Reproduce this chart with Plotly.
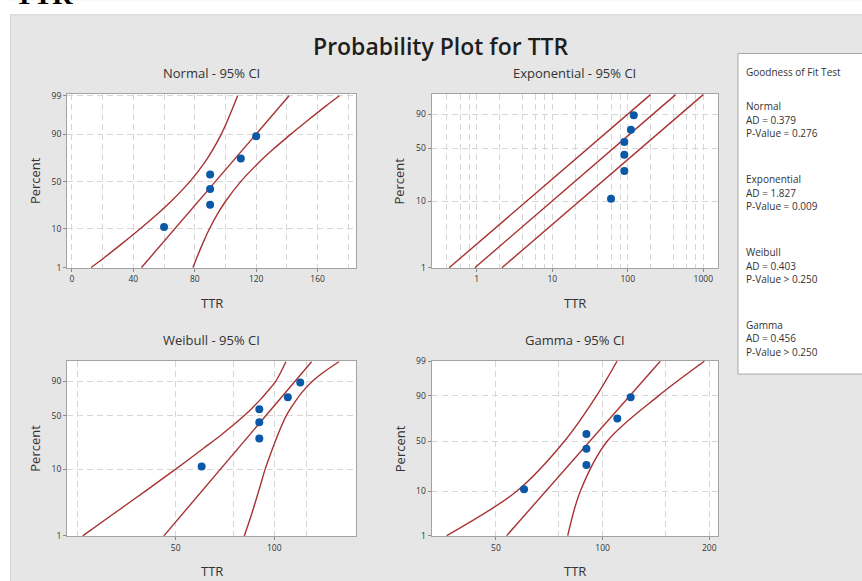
import math
from statistics import NormalDist
import plotly.graph_objects as go

# ---------------- data ----------------
ttr = [60, 90, 90, 90, 110, 120]
pct = [10.9, 26.6, 42.2, 57.8, 73.4, 89.1]

fit_pct = [1, 99]

normal_fit = [45.3, 141.4]
normal_ci_pct = [1, 2, 5, 10, 20, 30, 50, 70, 80, 90, 95, 98, 99]
normal_lo = [12.5, 21.2, 33.6, 44.3, 56.6, 64.8, 76.8, 86.5, 91.4, 97.2, 101.2, 105.3, 107.9]
normal_hi = [78.8, 81.4, 85.5, 89.5, 95.3, 100.2, 109.9, 121.9, 130.1, 142.4, 153.1, 165.5, 174.2]

expo_fit = [0.94, 430]
expo_lo = [0.43, 200]
expo_hi = [2.15, 1000]

weib_fit = [46.0, 130.0]
weib_ci_pct = [1, 2, 5, 10, 20, 30, 50, 70, 80, 90, 95, 99]
weib_lo = [26.0, 31.6, 41.0, 50.0, 61.1, 69.1, 81.0, 90.5, 95.2, 101.0, 104.0, 108.5]
weib_hi = [81.0, 84.9, 89.9, 93.8, 99.0, 102.6, 108.8, 116.8, 122.0, 130.5, 139.0, 157.5]

gamma_fit = [53.6, 145.4]
gamma_ci_pct = [1, 10, 50, 90, 99]
gamma_lo = [36.3, 57.2, 78.0, 96.2, 109.8]
gamma_hi = [79.7, 86.5, 103.0, 144.0, 193.6]

gof_names = ["Normal", "Exponential", "Weibull", "Gamma"]
gof_ad = ["0.379", "1.827", "0.403", "0.456"]
gof_p = ["= 0.276", "= 0.009", "> 0.250", "> 0.250"]

y_ticks_4 = [1, 10, 50, 90]
y_ticks_5 = [1, 10, 50, 90, 99]

GAMMA_SHAPE = 22.3

# ---------------- probability-scale transforms ----------------
_nd = NormalDist()


def t_norm(p):
    return _nd.inv_cdf(p / 100.0)


def t_sev(p):
    return math.log(-math.log(1 - p / 100.0))


def gamma_cdf(x, a):
    if x <= 0:
        return 0.0
    term = 1.0 / a
    s = term
    n = 1
    while n < 2000:
        term *= x / (a + n)
        s += term
        if term < s * 1e-14:
            break
        n += 1
    return s * math.exp(-x + a * math.log(x) - math.lgamma(a))


def gamma_ppf(p, a):
    lo, hi = 1e-9, a * 20
    for _ in range(200):
        mid = 0.5 * (lo + hi)
        if gamma_cdf(mid, a) < p:
            lo = mid
        else:
            hi = mid
    return 0.5 * (lo + hi)


def t_gam(p):
    return math.log(gamma_ppf(p / 100.0, GAMMA_SHAPE))


# ---------------- geometry helpers ----------------
W, H = 862, 581
# the photographed page shows the figure slightly shifted / squeezed vertically;
# positions below are given in reference-picture pixels and mapped back here
V_OFF, V_SC = 4.4, 0.9825


def fx(px):
    return px / W


def fy(py):
    return 1 - ((py - V_OFF) / V_SC) / H


RED = "#a83232"
BLUE = "#0a58a8"
GRID = "#d6d6d6"
DASH = "6px,4px"
AXLINE = "#a3a3a3"
TXT = "#333333"
FONT = "Open Sans"

fig = go.Figure()


def add_panel(idx, tf, fit, ci_sets):
    xa = "x" if idx == 1 else f"x{idx}"
    ya = "y" if idx == 1 else f"y{idx}"
    for ppct, xs in ci_sets:
        fig.add_trace(go.Scatter(x=xs, y=[tf(p) for p in ppct], mode="lines",
                                 line=dict(color=RED, width=1.4, shape="spline", smoothing=0.9),
                                 xaxis=xa, yaxis=ya, hoverinfo="skip"))
    fig.add_trace(go.Scatter(x=fit, y=[tf(p) for p in fit_pct], mode="lines",
                             line=dict(color=RED, width=1.4), xaxis=xa, yaxis=ya, hoverinfo="skip"))
    fig.add_trace(go.Scatter(x=ttr, y=[tf(p) for p in pct], mode="markers",
                             marker=dict(color=BLUE, size=8), xaxis=xa, yaxis=ya))


add_panel(1, t_norm, normal_fit, [(normal_ci_pct, normal_lo), (normal_ci_pct, normal_hi)])
add_panel(2, t_sev, expo_fit, [(fit_pct, expo_lo), (fit_pct, expo_hi)])
add_panel(3, t_sev, weib_fit, [(weib_ci_pct, weib_lo), (weib_ci_pct, weib_hi)])
add_panel(4, t_gam, gamma_fit, [(gamma_ci_pct, gamma_lo), (gamma_ci_pct, gamma_hi)])

# plot-area pixel boxes (reference pixels)
LX = (67, 356)
RX = (431.5, 718)
TY = (92.5, 267)
BY = (360, 535.5)

common = dict(showline=True, mirror=True, linecolor=AXLINE, linewidth=1,
              showgrid=True, gridcolor=GRID, griddash=DASH, gridwidth=1,
              zeroline=False, ticks="outside", ticklen=3, tickcolor="#8a8a8a",
              tickfont=dict(size=8.5, color=TXT, family=FONT))

minor_common = dict(showgrid=True, gridcolor=GRID, griddash=DASH, gridwidth=1, ticks="")

layout_axes = {}
# Normal
layout_axes["xaxis"] = dict(common, domain=[fx(LX[0]), fx(LX[1])], anchor="y",
                            range=[-3.2, 185], tickmode="array", tickvals=[0, 40, 80, 120, 160],
                            minor=dict(minor_common, tickmode="array",
                                       tickvals=[20, 60, 100, 140, 180]))
layout_axes["yaxis"] = dict(common, domain=[fy(TY[1]), fy(TY[0])], anchor="x",
                            range=[-2.345, 2.375], tickmode="array",
                            tickvals=[t_norm(v) for v in y_ticks_5],
                            ticktext=[str(v) for v in y_ticks_5])
# Exponential
exp_minor = []
for d in [0.1, 1, 10, 100, 1000]:
    for m in [2, 4, 6, 8]:
        exp_minor.append(d * m)
layout_axes["xaxis2"] = dict(common, domain=[fx(RX[0]), fx(RX[1])], anchor="y2", type="log",
                             range=[-0.600, 3.195], tickmode="array", tickvals=[1, 10, 100, 1000],
                             ticktext=["1", "10", "100", "1000"],
                             minor=dict(minor_common, tickmode="array", tickvals=exp_minor))
layout_axes["yaxis2"] = dict(common, domain=[fy(TY[1]), fy(TY[0])], anchor="x2",
                             range=[-4.615, 1.55], tickmode="array",
                             tickvals=[t_sev(v) for v in y_ticks_4],
                             ticktext=[str(v) for v in y_ticks_4])
# Weibull
layout_axes["xaxis3"] = dict(common, domain=[fx(LX[0]), fx(LX[1])], anchor="y3", type="log",
                             range=[1.367, 2.2495], tickmode="array", tickvals=[50, 100],
                             ticktext=["50", "100"],
                             minor=dict(minor_common, tickmode="array", tickvals=[25, 75, 125]))
layout_axes["yaxis3"] = dict(common, domain=[fy(BY[1]), fy(BY[0])], anchor="x3",
                             range=[-4.615, 1.55], tickmode="array",
                             tickvals=[t_sev(v) for v in y_ticks_4],
                             ticktext=[str(v) for v in y_ticks_4])
# Gamma
layout_axes["xaxis4"] = dict(common, domain=[fx(RX[0]), fx(RX[1])], anchor="y4", type="log",
                             range=[1.517, 2.3256], tickmode="array", tickvals=[50, 100, 200],
                             ticktext=["50", "100", "200"],
                             minor=dict(minor_common, tickmode="array", tickvals=[75, 150]))
layout_axes["yaxis4"] = dict(common, domain=[fy(BY[1]), fy(BY[0])], anchor="x4",
                             range=[t_gam(1) - 0.004, t_gam(99) + 0.001], tickmode="array",
                             tickvals=[t_gam(v) for v in y_ticks_5],
                             ticktext=[str(v) for v in y_ticks_5])

ann = []


def text(xp, yp, s, size, color=TXT, xanchor="center", yanchor="middle", angle=0,
         family=FONT, weight="normal", yraw=None):
    ann.append(dict(x=fx(xp), y=fy(yp) if yraw is None else yraw, xref="paper", yref="paper",
                    text=s, showarrow=False, xanchor=xanchor, yanchor=yanchor, textangle=angle,
                    font=dict(size=size, color=color, family=family, weight=weight)))


# cut-off heading at the very top of the screenshot
text(13, 0, "<b>TTR</b>", 28, color="#000000", xanchor="left", yanchor="bottom",
     family="Liberation Serif", yraw=1 - 6.5 / H)
text(441, 44, "Probability Plot for TTR", 23, color="#1e1e1e", weight=600)

titles = ["Normal - 95% CI", "Exponential - 95% CI", "Weibull - 95% CI", "Gamma - 95% CI"]
boxes = [(LX, TY), (RX, TY), (LX, BY), (RX, BY)]
for t, (bx, by) in zip(titles, boxes):
    cx = (bx[0] + bx[1]) / 2
    text(cx, by[0] - 21, t, 13)
    text(cx, by[1] + 35, "TTR", 13)
    text(bx[0] - 32, (by[0] + by[1]) / 2, "Percent", 13, angle=-90)

# goodness of fit box text
text(744, 70.7, "Goodness of Fit Test", 10, xanchor="left")
for i, name in enumerate(gof_names):
    y0 = 105 + 73 * i
    text(744, y0, name, 10, xanchor="left")
    text(744, y0 + 13.3, "AD = " + gof_ad[i], 10, xanchor="left")
    text(744, y0 + 26.6, "P-Value " + gof_p[i], 10, xanchor="left")

shapes = [
    dict(type="rect", xref="paper", yref="paper", x0=0, x1=1, y0=fy(12.7), y1=1.01,
         fillcolor="white", line=dict(width=0), layer="below"),
    dict(type="rect", xref="paper", yref="paper", x0=0, x1=fx(10), y0=-0.01, y1=1.01,
         fillcolor="white", line=dict(width=0), layer="below"),
    dict(type="rect", xref="paper", yref="paper", x0=fx(10.5), x1=1.01, y0=-0.01, y1=fy(13.2),
         fillcolor="rgba(0,0,0,0)", line=dict(color="#d4d4d4", width=1), layer="below"),
    dict(type="rect", xref="paper", yref="paper", x0=fx(738), x1=1.02, y0=fy(373), y1=fy(52),
         fillcolor="white", line=dict(color="#a8a8a8", width=1), layer="below"),
]

fig.update_layout(
    width=W, height=H, margin=dict(l=0, r=0, t=0, b=0),
    paper_bgcolor="#e6e6e6", plot_bgcolor="white",
    showlegend=False, font=dict(family=FONT, color=TXT),
    annotations=ann, shapes=shapes, **layout_axes,
)

page_css = (
    "var s='margin:0;padding:0;overflow:hidden;';"
    "document.documentElement.style.cssText=s;document.body.style.cssText=s;"
)

fig.write_html("out.html", config={"displayModeBar": False}, post_script=page_css)
